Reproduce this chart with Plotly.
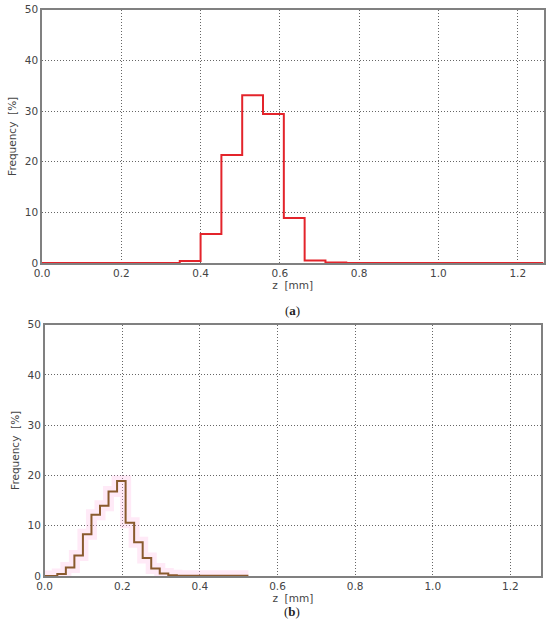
import plotly.graph_objects as go

# (a) histogram of z, bin edges and frequency in %
edges_a = [0.0, 0.3475, 0.4, 0.4525, 0.505, 0.5575, 0.61, 0.6625, 0.715, 0.7675, 1.265]
freq_a = [0.0, 0.4, 5.7, 21.3, 33.1, 29.4, 8.9, 0.5, 0.1, 0.0]

# (b) histogram of z
edges_b = [0.0, 0.0325, 0.0545, 0.0765, 0.0985, 0.1205, 0.1425, 0.1645, 0.1865,
           0.2085, 0.2305, 0.2525, 0.2745, 0.2965, 0.3185, 0.3405, 0.525]
freq_b = [0.0, 0.4, 1.7, 4.1, 8.3, 12.2, 14.0, 16.8, 18.9,
          10.6, 6.7, 3.6, 1.5, 0.5, 0.15, 0.05]

xticks = [0.0, 0.2, 0.4, 0.6, 0.8, 1.0, 1.2]
yticks = [0, 10, 20, 30, 40, 50]

W, H = 550, 631
font = dict(family="DejaVu Sans", size=10.5, color="#444444")


def px_x(a, b):
    return [a / W, b / W]


def px_y(top, bottom):
    return [1 - bottom / H, 1 - top / H]


fig = go.Figure()

fig.add_trace(go.Scatter(x=edges_a, y=freq_a + [freq_a[-1]], mode="lines",
                         line=dict(shape="hv", color="#e3242b", width=2),
                         xaxis="x", yaxis="y", showlegend=False))

# light pink band behind the (b) histogram
fig.add_trace(go.Scatter(x=edges_b, y=freq_b + [freq_b[-1]], mode="lines",
                         line=dict(shape="hv", color="rgba(255,170,225,0.25)", width=11),
                         xaxis="x2", yaxis="y2", showlegend=False))
fig.add_trace(go.Scatter(x=edges_b, y=freq_b + [freq_b[-1]], mode="lines",
                         line=dict(shape="hv", color="#8a5a2e", width=2),
                         xaxis="x2", yaxis="y2", showlegend=False))


def xax(domain, rng, anchor):
    return dict(domain=domain, range=rng, anchor=anchor, tickvals=xticks,
                ticktext=[f"{v:.1f}" for v in xticks], showgrid=True,
                gridcolor="#666666", griddash="1px,2px", gridwidth=1, zeroline=False,
                showline=True, mirror=True, linecolor="#808080", linewidth=1.5,
                ticks="", tickfont=font, automargin=False,
                title=dict(text="z  [mm]", font=font, standoff=0))


def yax(domain, anchor):
    return dict(domain=domain, range=[0, 50], anchor=anchor, tickvals=yticks,
                showgrid=True, gridcolor="#666666", griddash="1px,2px", gridwidth=1,
                zeroline=False, showline=True, mirror=True, linecolor="#808080",
                linewidth=1.5, ticks="", tickfont=font, automargin=False,
                title=dict(text="Frequency  [%]", font=font, standoff=6))


cap_font = dict(family="Liberation Serif", size=13, color="#222222")

fig.update_layout(
    width=W, height=H,
    margin=dict(l=0, r=0, t=0, b=0),
    paper_bgcolor="white", plot_bgcolor="white",
    xaxis=xax(px_x(42, 543.5), [0, 1.265], "y"),
    yaxis=yax(px_y(9.7, 263), "x"),
    xaxis2=xax(px_x(44.7, 541), [0, 1.279], "y2"),
    yaxis2=yax(px_y(324.7, 576), "x2"),
    annotations=[
        dict(text="(<b>a</b>)", x=292 / W, y=1 - 310 / H, xanchor="center",
             yanchor="middle", xref="paper", yref="paper", showarrow=False, font=cap_font),
        dict(text="(<b>b</b>)", x=292 / W, y=1 - 611 / H, xanchor="center",
             yanchor="middle", xref="paper", yref="paper", showarrow=False, font=cap_font),
    ],
)

# drop the default page margin so the figure sits at the top-left corner
fig.write_html("out.html", config={"displayModeBar": False},
               post_script="document.body.style.margin='0';")
